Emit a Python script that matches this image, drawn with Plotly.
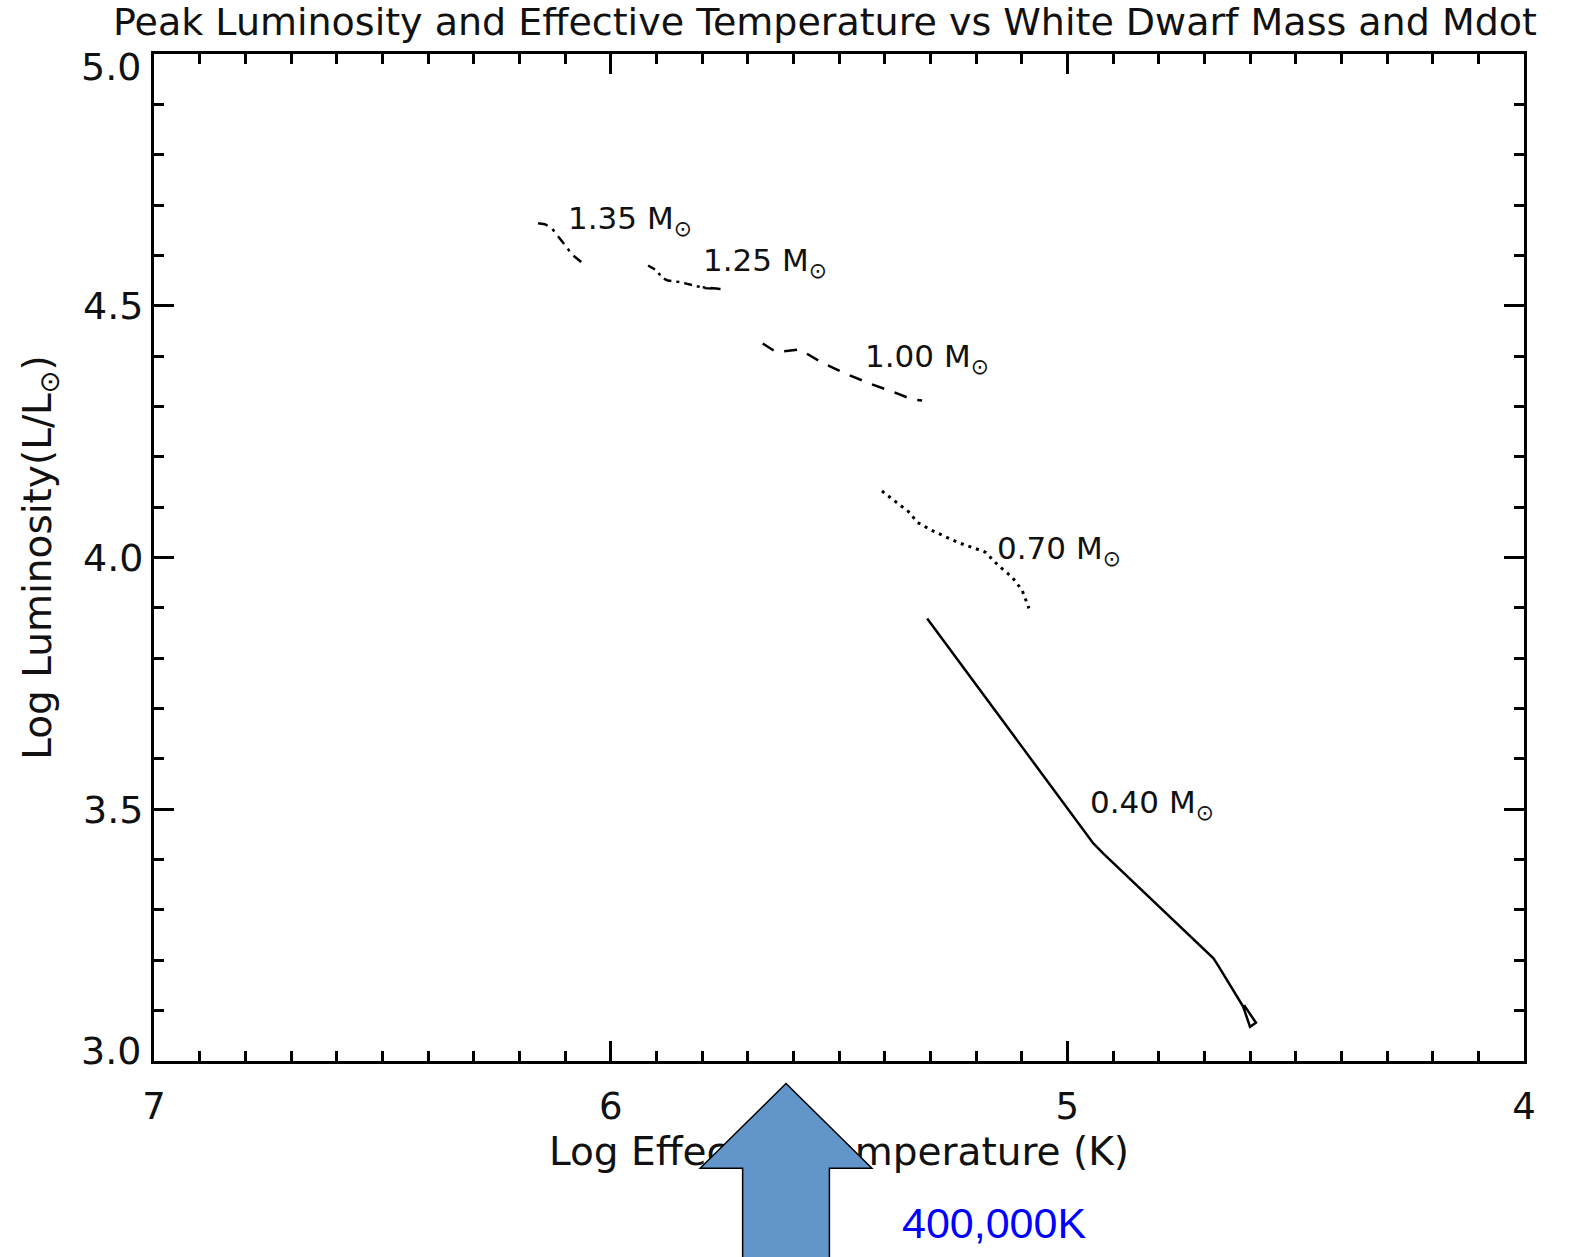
import plotly.graph_objects as go

# ---------------- data ----------------
TITLE = "Peak Luminosity and Effective Temperature vs White Dwarf Mass and Mdot"
X_TITLE = "Log Effective Temperature (K)"
Y_TITLE = "Log Luminosity(L/L<sub>⊙</sub>)"

x_tickvals = [7, 6, 5, 4]
x_ticktext = ["7", "6", "5", "4"]
y_tickvals = [3.0, 3.5, 4.0, 4.5, 5.0]
y_ticktext = ["", "3.5", "4.0", "4.5", ""]
y_end_values = [5.0, 3.0]
y_end_labels = ["5.0", "3.0"]

masses = ["1.35", "1.25", "1.00", "0.70", "0.40"]

logt_135 = [6.159, 6.144, 6.129, 6.113, 6.098, 6.085, 6.058]
logl_135 = [4.664, 4.662, 4.654, 4.636, 4.618, 4.602, 4.582]

logt_125 = [5.918, 5.899, 5.888, 5.875, 5.848, 5.820, 5.794, 5.756, 5.804]
logl_125 = [4.580, 4.570, 4.556, 4.550, 4.547, 4.541, 4.535, 4.533, 4.537]

logt_100 = [5.667, 5.638, 5.586, 5.535, 5.483, 5.428, 5.373, 5.340, 5.318]
logl_100 = [4.425, 4.408, 4.413, 4.386, 4.364, 4.344, 4.326, 4.314, 4.312]

logt_070 = [5.406, 5.373, 5.345, 5.329, 5.297, 5.240, 5.180, 5.152, 5.121, 5.099, 5.088, 5.084]
logl_070 = [4.132, 4.108, 4.089, 4.070, 4.054, 4.030, 4.011, 3.985, 3.961, 3.935, 3.909, 3.899]

logt_040 = [5.307, 4.943, 4.921, 4.680, 4.670, 4.615, 4.600, 4.587, 4.613]
logl_040 = [3.879, 3.432, 3.412, 3.204, 3.190, 3.108, 3.068, 3.076, 3.111]

label_logt = [6.089, 5.794, 5.439, 5.150, 4.946]
label_logl = [4.670, 4.586, 4.395, 4.014, 3.510]

ARROW_LOGT = 5.616
ARROW_TEXT = "400,000K"

series_t = [logt_135, logt_125, logt_100, logt_070, logt_040]
series_l = [logl_135, logl_125, logl_100, logl_070, logl_040]

# ---------------- layout geometry ----------------
W, H = 1585, 1257
M_L, M_R, M_T = 154, 61, 54
PLOT_BOTTOM_PX = 1061                     # bottom frame line of the main panel
area_h = H - M_T
main_bottom = (H - PLOT_BOTTOM_PX) / area_h
Y_LO, Y_HI = 3.0, 5.0
units_per_px = (Y_HI - Y_LO) / (PLOT_BOTTOM_PX - M_T)
y2_lo = Y_LO - (H - PLOT_BOTTOM_PX) * units_per_px   # lower strip continues the same scale

# ---------------- styles ----------------
dashes = ["10px,6px,3px,6px", "8px,5px,3px,5px", "13px,11px", "3px,5px", "solid"]
widths = [2.5, 2.5, 2.5, 3, 2.5]
FONT = "DejaVu Sans"
INK = "#111111"

fig = go.Figure()
for t, l, d, w, m in zip(series_t, series_l, dashes, widths, masses):
    fig.add_trace(go.Scatter(x=t, y=l, mode="lines", name=f"{m} Msun",
                             line=dict(color="black", width=w, dash=d),
                             hoverinfo="skip"))

# x-axis title drawn as text in a lower strip so the arrow (shape above) covers it
fig.add_trace(go.Scatter(x=[5.5], y=[2.813], xaxis="x", yaxis="y2", mode="text",
                         text=[X_TITLE], textposition="middle center",
                         textfont=dict(family=FONT, size=39, color=INK),
                         hoverinfo="skip", showlegend=False))

annotations = []
for m, xt, yl in zip(masses, label_logt, label_logl):
    annotations.append(dict(x=xt, y=yl, xref="x", yref="y", text=f"{m} M<sub>⊙</sub>",
                            showarrow=False, xanchor="left", yanchor="middle", xshift=-4,
                            font=dict(family=FONT, size=31, color=INK)))
for v, s, sh in zip(y_end_values, y_end_labels, [-13, 10]):
    annotations.append(dict(x=0, xref="paper", y=v, yref="y", text=s, showarrow=False,
                            xanchor="right", yanchor="middle", xshift=-11, yshift=sh,
                            font=dict(family=FONT, size=38, color=INK)))
annotations.append(dict(x=5.367, xref="x", y=2.678, yref="y2", text=ARROW_TEXT,
                        showarrow=False, xanchor="left", yanchor="middle",
                        font=dict(family="Liberation Sans", size=43, color="#0000FF")))

cx, hh, sh = ARROW_LOGT, 0.188, 0.095
yt, yb, ybot = 2.9563, 2.7875, y2_lo - 0.003
arrow_path = (f"M {cx},{yt} L {cx - hh},{yb} L {cx - sh},{yb} L {cx - sh},{ybot} "
              f"L {cx + sh},{ybot} L {cx + sh},{yb} L {cx + hh},{yb} Z")

fig.update_layout(
    width=W, height=H,
    margin=dict(l=M_L, r=M_R, t=M_T, b=0, autoexpand=False),
    paper_bgcolor="white", plot_bgcolor="white",
    showlegend=False,
    font=dict(family=FONT, color=INK, size=36),
    title=dict(text=TITLE, x=825 / W, xanchor="center", y=1 - 22 / H, yanchor="middle",
               font=dict(family=FONT, size=38, color=INK)),
    annotations=annotations,
    shapes=[dict(type="path", path=arrow_path, xref="x", yref="y2",
                 fillcolor="#6295C9", line=dict(color="black", width=1.5), layer="above")],
    yaxis2=dict(domain=[0, main_bottom - 0.0005], range=[y2_lo, Y_LO], anchor="x",
                visible=False, showgrid=False, zeroline=False),
)
fig.update_xaxes(range=[7, 4], tickmode="array", tickvals=x_tickvals, ticktext=x_ticktext,
                 ticks="inside", ticklen=20, tickwidth=2.5, tickcolor="black",
                 showline=True, linewidth=3, linecolor="black", mirror="ticks",
                 showgrid=False, zeroline=False, ticklabelstandoff=11,
                 tickfont=dict(family=FONT, size=37, color=INK),
                 minor=dict(dtick=0.1, tick0=0, ticks="inside", ticklen=10, tickwidth=2.5,
                            tickcolor="black", showgrid=False))
fig.update_layout(yaxis=dict(
    domain=[main_bottom, 1], range=[Y_LO, Y_HI], tickmode="array",
    tickvals=y_tickvals, ticktext=y_ticktext,
    ticks="inside", ticklen=20, tickwidth=2.5, tickcolor="black",
    showline=True, linewidth=3, linecolor="black", mirror="ticks",
    showgrid=False, zeroline=False, ticklabelstandoff=0,
    tickfont=dict(family=FONT, size=38, color=INK),
    title=dict(text=Y_TITLE, standoff=20, font=dict(family=FONT, size=39, color=INK)),
    minor=dict(dtick=0.1, tick0=0, ticks="inside", ticklen=10, tickwidth=2.5,
               tickcolor="black", showgrid=False)))

fig.write_html("out.html")
